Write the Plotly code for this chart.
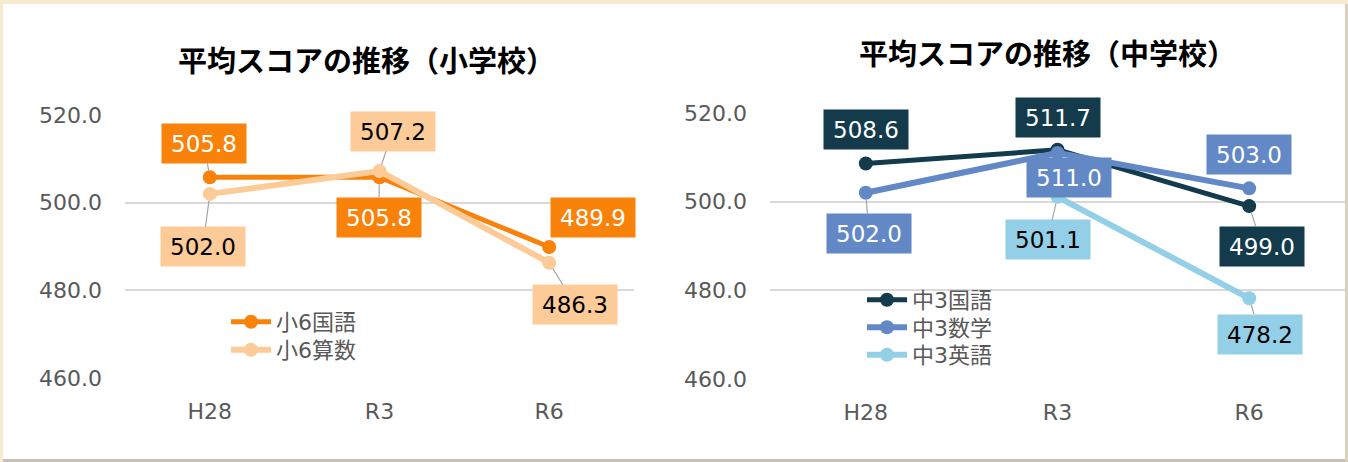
import plotly.graph_objects as go

W, H = 1348, 462

categories = ["H28", "R3", "R6"]
elem_names = ["小6国語", "小6算数"]
elem_kokugo = [505.8, 505.8, 489.9]
elem_sansu = [502.0, 507.2, 486.3]
jh_names = ["中3国語", "中3数学", "中3英語"]
jh_kokugo = [508.6, 511.7, 499.0]
jh_sugaku = [502.0, 511.0, 503.0]
jh_eigo = [None, 501.1, 478.2]
y_ticks = [460, 480, 500, 520]
titles = ["平均スコアの推移（小学校）", "平均スコアの推移（中学校）"]

C_OR = "#F8820A"
C_PE = "#FDCB98"
C_DK = "#133B4C"
C_BL = "#6388C6"
C_LB = "#93CFE6"

NUM_FONT = "DejaVu Sans, Noto Sans CJK JP, sans-serif"
GRAY = "#595959"

fig = go.Figure()

def px_x(p):
    return p / W

def px_y(p):
    return 1 - p / H

# (xaxis, yaxis, legend id, name, values, colour, line width)
series = [
    ("x", "y", "legend", elem_names[0], elem_kokugo, C_OR, 5),
    ("x", "y", "legend2", elem_names[1], elem_sansu, C_PE, 6),
    ("x2", "y2", "legend3", jh_names[0], jh_kokugo, C_DK, 5),
    ("x2", "y2", "legend4", jh_names[1], jh_sugaku, C_BL, 6),
    ("x2", "y2", "legend5", jh_names[2], jh_eigo, C_LB, 6),
]
for xa, ya, lg, name, vals, col, lw in series:
    fig.add_trace(go.Scatter(
        x=categories, y=vals, name=name, mode="lines+markers",
        line=dict(color=col, width=lw), marker=dict(color=col, size=14),
        xaxis=xa, yaxis=ya, legend=lg, cliponaxis=False, connectgaps=False,
    ))

# data labels: (xref, yref, category index, value, bg, text color, ax, ay, leader)
labels = [
    ("x", "y", 0, elem_kokugo[0], C_OR, "white", -6, -34, True),
    ("x", "y", 1, elem_kokugo[1], C_OR, "white", -1, 40, True),
    ("x", "y", 2, elem_kokugo[2], C_OR, "white", 44, -29, False),
    ("x", "y", 0, elem_sansu[0], C_PE, "black", -7, 53, True),
    ("x", "y", 1, elem_sansu[1], C_PE, "black", 13, -40, True),
    ("x", "y", 2, elem_sansu[2], C_PE, "black", 26, 42, True),
    ("x2", "y2", 0, jh_kokugo[0], C_DK, "white", 0, -34, False),
    ("x2", "y2", 1, jh_kokugo[1], C_DK, "white", 0, -32, False),
    ("x2", "y2", 2, jh_kokugo[2], C_DK, "white", 13, 40, True),
    ("x2", "y2", 0, jh_sugaku[0], C_BL, "white", 3, 41, True),
    ("x2", "y2", 1, jh_sugaku[1], C_BL, "white", 11, 25, False),
    ("x2", "y2", 2, jh_sugaku[2], C_BL, "white", 0, -34, False),
    ("x2", "y2", 1, jh_eigo[1], C_LB, "black", -10, 43, True),
    ("x2", "y2", 2, jh_eigo[2], C_LB, "black", 11, 36, True),
]
annotations = []
for xr, yr, i, v, bg, tc, ax, ay, leader in labels:
    annotations.append(dict(
        x=categories[i], y=v, xref=xr, yref=yr, text=f"{v:.1f}",
        showarrow=True, ax=ax, ay=ay, arrowhead=0, arrowwidth=1.2,
        arrowcolor="#A6A6A6" if leader else "rgba(0,0,0,0)", standoff=7,
        bgcolor=bg, width=84, height=39, borderpad=0,
        font=dict(family=NUM_FONT, size=23, color=tc),
    ))

annotations.append(dict(x=px_x(366), y=px_y(59), xref="paper", yref="paper",
                        text=titles[0], showarrow=False, xanchor="center", yanchor="middle",
                        font=dict(family="Noto Sans CJK JP", size=29, color="#000000", weight="bold")))
annotations.append(dict(x=px_x(1047), y=px_y(52), xref="paper", yref="paper",
                        text=titles[1], showarrow=False, xanchor="center", yanchor="middle",
                        font=dict(family="Noto Sans CJK JP", size=29, color="#000000", weight="bold")))

shapes = [
    dict(type="rect", xref="paper", yref="paper", x0=px_x(3), x1=px_x(1345), y0=px_y(459), y1=px_y(4),
         fillcolor="white", line=dict(width=0), layer="below"),
    dict(type="line", xref="paper", yref="paper", x0=px_x(3), x1=1, y0=px_y(460.5), y1=px_y(460.5),
         line=dict(color="#C9C2B4", width=3), layer="below"),
    dict(type="line", xref="paper", yref="paper", x0=px_x(1346.5), x1=px_x(1346.5), y0=0, y1=px_y(4),
         line=dict(color="#D8D0C0", width=3), layer="below"),
]

axis_common = dict(
    type="category", range=[-0.5, 2.5], showgrid=False, zeroline=False, showline=False,
    ticks="", tickfont=dict(family=NUM_FONT, size=22, color=GRAY),
)
yaxis_common = dict(
    range=[460, 520], tickvals=y_ticks, tickformat=".1f", showgrid=True,
    gridcolor="#D9D9D9", gridwidth=1.5, zeroline=False, showline=False, ticks="",
    tickfont=dict(family=NUM_FONT, size=22, color=GRAY), ticklabelstandoff=22,
)

legend_common = dict(
    font=dict(family=NUM_FONT, size=22, color=GRAY), bgcolor="rgba(0,0,0,0)",
    xanchor="left", yanchor="top", tracegroupgap=0, itemwidth=40,
)

fig.update_layout(
    width=W, height=H, margin=dict(l=0, r=0, t=0, b=0, autoexpand=False),
    paper_bgcolor="#F6EBD0", plot_bgcolor="rgba(0,0,0,0)",
    xaxis=dict(domain=[px_x(125), px_x(634)], anchor="y", ticklabelstandoff=18, **axis_common),
    xaxis2=dict(domain=[px_x(770), px_x(1345)], anchor="y2", ticklabelstandoff=18, **axis_common),
    yaxis=dict(domain=[px_y(378), px_y(115)], anchor="x", **yaxis_common),
    yaxis2=dict(domain=[px_y(379), px_y(113)], anchor="x2", **yaxis_common),
    legend=dict(x=px_x(226), y=px_y(301), **legend_common),
    legend2=dict(x=px_x(226), y=px_y(329), **legend_common),
    legend3=dict(x=px_x(862), y=px_y(279), **legend_common),
    legend4=dict(x=px_x(862), y=px_y(306.5), **legend_common),
    legend5=dict(x=px_x(862), y=px_y(334), **legend_common),
    annotations=annotations, shapes=shapes, showlegend=True,
)

fig.write_html("out.html", config={"displayModeBar": False},
               post_script="document.body.style.margin='0';document.body.style.padding='0';document.body.style.overflow='hidden';")
